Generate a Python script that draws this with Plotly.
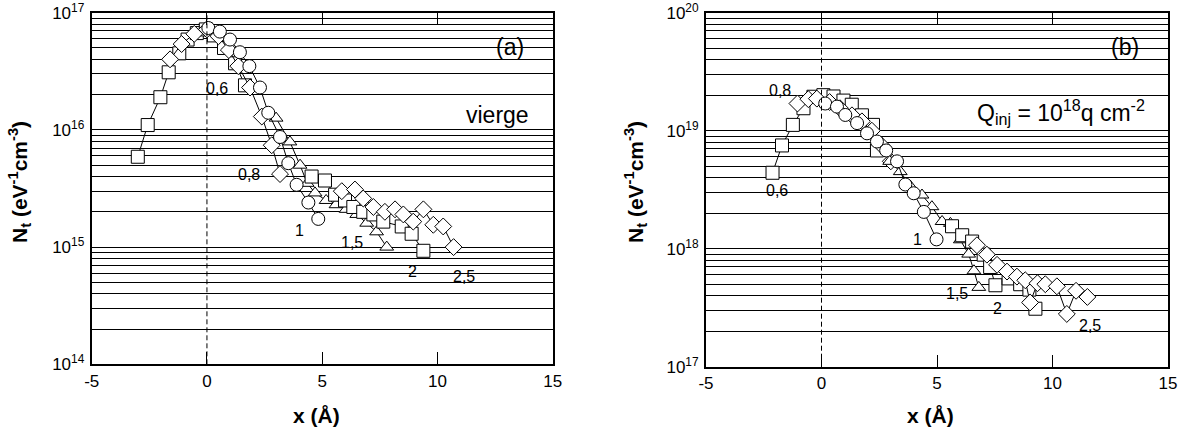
import math
import plotly.graph_objects as go

# ---------------- data: panel (a) "vierge" ----------------
a06_x = [-3.0, -2.57, -2.02, -1.66, -1.2, -0.84, -0.44, -0.05, 0.3, 0.74, 1.22, 1.65]
a06_y = [5.9e15, 1.1e16, 1.9e16, 3.1e16, 4.5e16, 5.9e16, 6.7e16, 7.2e16, 6.4e16, 5.0e16, 3.7e16, 2.4e16]
a08_x = [-1.6, -1.1, -0.55, 0.0, 0.5, 0.95, 1.36, 1.87, 2.38, 2.81, 3.17]
a08_y = [4.0e16, 5.4e16, 6.6e16, 7.2e16, 6.3e16, 4.8e16, 3.5e16, 2.3e16, 1.3e16, 7.4e15, 4.2e15]
a1_x = [0.06, 0.56, 1.0, 1.43, 1.84, 2.3, 2.66, 3.17, 3.53, 3.89, 4.4, 4.83]
a1_y = [7.4e16, 6.9e16, 5.9e16, 4.6e16, 3.5e16, 2.3e16, 1.4e16, 8.7e15, 5.2e15, 3.4e15, 2.4e15, 1.74e15]
a15_x = [3.0, 3.6, 4.04, 4.35, 4.69, 5.17, 5.6, 6.04, 6.5, 6.93, 7.36, 7.8]
a15_y = [1.26e16, 7.9e15, 5.0e15, 3.5e15, 2.9e15, 2.5e15, 2.3e15, 2.1e15, 1.9e15, 1.6e15, 1.35e15, 1.0e15]
a2_x = [4.54, 5.12, 5.56, 5.99, 6.35, 6.78, 7.22, 7.65, 8.45, 8.88, 9.39]
a2_y = [4.0e15, 3.7e15, 2.8e15, 2.5e15, 2.2e15, 2.0e15, 1.9e15, 1.65e15, 1.5e15, 1.3e15, 9.3e14]
a25_x = [5.85, 6.42, 6.78, 7.22, 7.72, 8.16, 8.52, 8.95, 9.39, 9.82, 10.25, 10.7]
a25_y = [3.0e15, 3.1e15, 2.6e15, 2.2e15, 2.0e15, 2.1e15, 1.9e15, 1.65e15, 2.1e15, 1.55e15, 1.5e15, 1.0e15]

# ---------------- data: panel (b) Qinj = 1e18 q cm-2 ----------------
b06_x = [-2.12, -1.71, -1.24, -0.78, -0.35, 0.08, 0.52, 0.95, 1.31, 1.75, 2.23, 2.4]
b06_y = [4.4e18, 7.5e18, 1.12e19, 1.55e19, 1.94e19, 2.0e19, 1.95e19, 1.8e19, 1.66e19, 1.35e19, 1.12e19, 6.8e18]
b08_x = [-1.04, -0.57, -0.2, 0.35, 0.8, 1.32, 1.75, 2.18, 2.6, 3.0]
b08_y = [1.7e19, 1.85e19, 1.87e19, 1.75e19, 1.55e19, 1.35e19, 1.2e19, 1.0e19, 7.5e18, 5.5e18]
b1_x = [0.16, 0.67, 1.03, 1.54, 1.97, 2.4, 2.8, 3.27, 3.63, 3.99, 4.43, 4.98]
b1_y = [1.7e19, 1.6e19, 1.36e19, 1.16e19, 9.5e18, 8.1e18, 6.8e18, 5.5e18, 3.5e18, 2.95e18, 2.05e18, 1.2e18]
b15_x = [2.95, 3.41, 3.84, 4.35, 4.78, 5.22, 5.58, 6.01, 6.37, 6.6, 6.81]
b15_y = [5.5e18, 4.5e18, 3.4e18, 2.85e18, 2.27e18, 1.7e18, 1.64e18, 1.19e18, 9.0e17, 6.5e17, 4.7e17]
b2_x = [5.65, 6.09, 6.52, 7.02, 7.3, 7.53, 8.1, 8.6, 9.0, 9.26]
b2_y = [1.55e18, 1.3e18, 1.15e18, 8.9e17, 7.0e17, 4.9e17, 5.6e17, 5.0e17, 4.5e17, 3.1e17]
b25_x = [6.73, 7.16, 7.6, 8.03, 8.46, 8.82, 9.03, 9.35, 9.69, 10.19, 10.62, 11.02, 11.51]
b25_y = [1.07e18, 8.9e17, 7.3e17, 6.4e17, 5.8e17, 5.4e17, 3.5e17, 5.1e17, 5.0e17, 4.8e17, 2.8e17, 4.4e17, 3.9e17]

x_tickvals = [-5, 0, 5, 10, 15]
x_ticktext = ["-5", "0", "5", "10", "15"]

FONT = "Liberation Sans, Arial, sans-serif"

W, H = 1183, 430

def fx(px):
    return px / W

def fy(py):
    return 1 - py / H

symbols = {"0,6": "square", "0,8": "diamond", "1": "circle",
           "1,5": "triangle-up", "2": "square", "2,5": "diamond"}
msize = {"square": 13, "diamond": 13, "circle": 13, "triangle-up": 12}

fig = go.Figure()

def add_series(xs, ys, name, xa, ya):
    sym = symbols[name]
    fig.add_trace(go.Scatter(
        x=xs, y=ys, mode="lines+markers", name=name, showlegend=False,
        xaxis=xa, yaxis=ya,
        line=dict(color="black", width=1),
        marker=dict(symbol=sym, size=msize[sym], color="white",
                    line=dict(color="black", width=1)),
    ))

series_a = [(a06_x, a06_y, "0,6"), (a08_x, a08_y, "0,8"), (a15_x, a15_y, "1,5"),
            (a2_x, a2_y, "2"), (a25_x, a25_y, "2,5"), (a1_x, a1_y, "1")]
series_b = [(b06_x, b06_y, "0,6"), (b08_x, b08_y, "0,8"), (b15_x, b15_y, "1,5"),
            (b2_x, b2_y, "2"), (b25_x, b25_y, "2,5"), (b1_x, b1_y, "1")]
for xs, ys, n in series_a:
    add_series(xs, ys, n, "x", "y")
for xs, ys, n in series_b:
    add_series(xs, ys, n, "x2", "y2")

def decades(lo, hi):
    vals = [10.0 ** e for e in range(lo, hi + 1)]
    txt = [f"10<sup>{e}</sup>" for e in range(lo, hi + 1)]
    minor = [m * 10.0 ** e for e in range(lo, hi) for m in range(2, 10)]
    return vals, txt, minor

ya_vals, ya_txt, ya_minor = decades(14, 17)
yb_vals, yb_txt, yb_minor = decades(17, 20)

xcommon = dict(range=[-5, 15], tickvals=x_tickvals, ticktext=x_ticktext,
               ticks="inside", ticklen=12, tickwidth=1, tickcolor="black",
               showline=True, linecolor="black", linewidth=2, mirror="ticks",
               showgrid=False, zeroline=False, automargin=False,
               ticklabeloverflow="allow",
               tickfont=dict(family=FONT, size=17, color="black"))

def ycommon(minor_vals):
    return dict(type="log", ticks="", showline=True, linecolor="black", linewidth=2,
                mirror=True, showgrid=True, gridcolor="black", gridwidth=1,
                zeroline=False, automargin=False, ticklabelstandoff=2,
                ticklabeloverflow="allow",
                minor=dict(tickvals=minor_vals, showgrid=True, gridcolor="black",
                           gridwidth=1, ticks=""),
                tickfont=dict(family=FONT, size=17, color="black"))

fig.update_layout(
    template="none",
    width=W, height=H,
    margin=dict(l=0, r=0, t=0, b=0, pad=0),
    paper_bgcolor="white", plot_bgcolor="white",
    font=dict(family=FONT, color="black"),
    xaxis=dict(domain=[fx(91.7), fx(552.7)], anchor="y", **xcommon),
    yaxis=dict(domain=[fy(364.3), fy(12.7)], anchor="x",
               range=[14, 17], tickvals=ya_vals, ticktext=ya_txt, **ycommon(ya_minor)),
    xaxis2=dict(domain=[fx(706), fx(1168)], anchor="y2", **xcommon),
    yaxis2=dict(domain=[fy(366.7), fy(12.7)], anchor="x2",
                range=[17, 20], tickvals=yb_vals, ticktext=yb_txt, **ycommon(yb_minor)),
)

# dashed reference line at x = 0
for xr, yr in (("x", "y domain"), ("x2", "y2 domain")):
    fig.add_shape(type="line", xref=xr, yref=yr, x0=0, x1=0, y0=0, y1=1,
                  line=dict(color="black", width=1, dash="5px,3px"), layer="above")

ann = []
def lab(text, x, y, xs, ys, xr, yr, size=16):
    ann.append(dict(text=text, x=x, y=y, xref=xr, yref=yr, showarrow=False,
                    xanchor="center", yanchor="middle",
                    xshift=xs, yshift=ys, font=dict(family=FONT, size=size, color="black")))

# curve labels (panel a) anchored on series points
lab("0,6", a06_x[-1], math.log10(a06_y[-1]), -28, -3, "x", "y")
lab("0,8", a08_x[-1], math.log10(a08_y[-1]), -31, 0, "x", "y")
lab("1", a1_x[-1], math.log10(a1_y[-1]), -19, -12, "x", "y")
lab("1,5", a15_x[-1], math.log10(a15_y[-1]), -35, 5, "x", "y")
lab("2", a2_x[-1], math.log10(a2_y[-1]), -11, -21, "x", "y")
lab("2,5", a25_x[-1], math.log10(a25_y[-1]), 10, -29, "x", "y")
# curve labels (panel b)
lab("0,8", b08_x[0], math.log10(b08_y[0]), -17, 13, "x2", "y2")
lab("0,6", b06_x[0], math.log10(b06_y[0]), 4, -18, "x2", "y2")
lab("1", b1_x[-1], math.log10(b1_y[-1]), -19, 0, "x2", "y2")
lab("1,5", b15_x[-1], math.log10(b15_y[-1]), -22, -6, "x2", "y2")
lab("2", b2_x[-1], math.log10(b2_y[-1]), -38, 0, "x2", "y2")
lab("2,5", b25_x[-1], math.log10(b25_y[-1]), 3, -29, "x2", "y2")

# panel texts
lab("(a)", 0.907, 0.903, 0, 0, "x domain", "y domain", 23)
lab("vierge", 0.880, 0.709, 0, 0, "x domain", "y domain", 23)
lab("(b)", 0.908, 0.904, 0, 0, "x2 domain", "y2 domain", 23)
lab("Q<sub>inj</sub> = 10<sup>18</sup>q cm<sup>-2</sup>", 0.769, 0.72, 0, 0,
    "x2 domain", "y2 domain", 23)

# axis titles
ytitle = "<b>N<sub>t</sub> (eV<sup>-1</sup>cm<sup>-3</sup>)</b>"
for px in (20, 636):
    ann.append(dict(text=ytitle, x=fx(px), y=fy(182), xref="paper", yref="paper",
                    showarrow=False, textangle=-90, xanchor="center", yanchor="middle",
                    font=dict(family=FONT, size=21, color="black")))
for px in (316, 930):
    ann.append(dict(text="<b>x (Å)</b>", x=fx(px), y=fy(415), xref="paper", yref="paper",
                    showarrow=False, xanchor="center", yanchor="middle",
                    font=dict(family=FONT, size=21, color="black")))

fig.update_layout(annotations=ann)
fig.write_html("out.html", config={"displayModeBar": False},
               post_script="document.body.style.margin='0';document.body.style.overflow='hidden';")
